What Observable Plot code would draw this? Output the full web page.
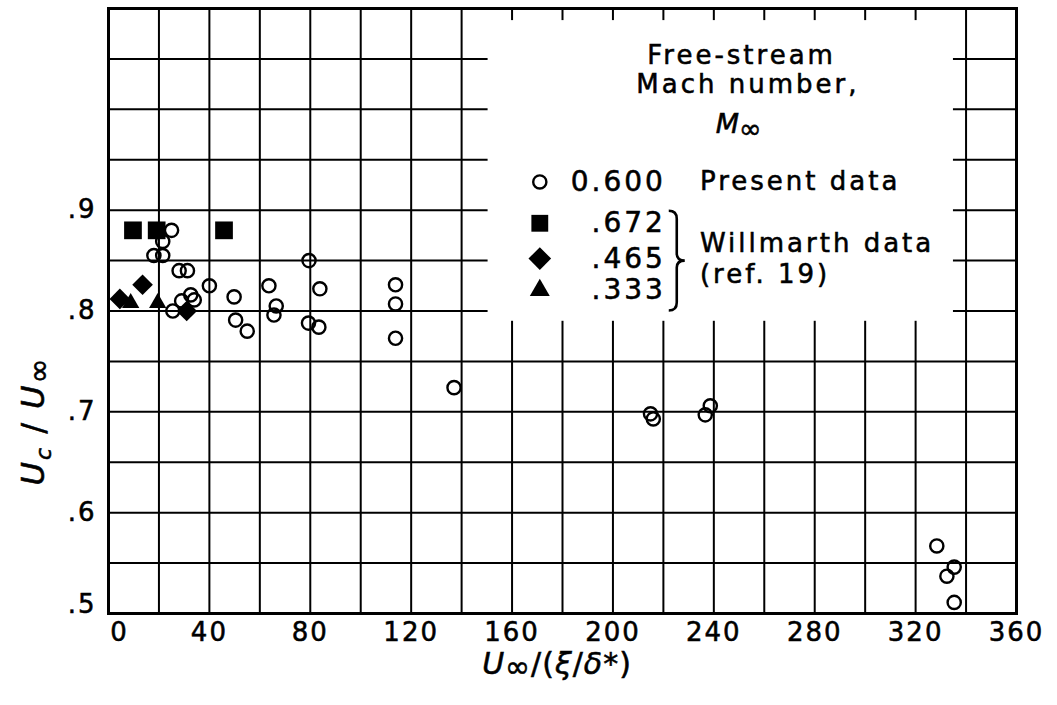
<!DOCTYPE html>
<html>
<head>
<meta charset="utf-8">
<script src="https://cdn.jsdelivr.net/npm/d3@7"></script>
<script src="https://cdn.jsdelivr.net/npm/@observablehq/plot@0.6"></script>
<style>
  body { margin: 0; background: #fff; }
  #chart svg { display: block; }
  #chart svg text { stroke: black; stroke-width: 0.55px; }
</style>
</head>
<body>
<div id="chart"></div>
<script>
// Convection velocity ratio Uc/U∞ against U∞/(ξ/δ*)

// Present data, M∞ = 0.600 (open circles)
const presentX = [25, 21.5, 18, 21.5, 28, 31.3, 40, 25.5, 29, 32.6, 34, 49.8, 50.4, 55,
  63.6, 66.5, 65.6, 79.5, 83.8, 79.3, 83.4, 113.8, 113.8, 113.8, 137,
  214.9, 216, 236.6, 238.6, 328.4, 335.3, 332.4, 335.3];
const presentY = [0.880, 0.869, 0.855, 0.855, 0.840, 0.840, 0.825, 0.800, 0.810, 0.816, 0.811, 0.814, 0.791, 0.780,
  0.825, 0.805, 0.796, 0.850, 0.822, 0.788, 0.784, 0.826, 0.807, 0.773, 0.724,
  0.698, 0.693, 0.697, 0.706, 0.567, 0.546, 0.537, 0.511];

// Willmarth data (ref. 19)
const m672X = [9.7, 19.1, 45.8];        // M∞ = .672, filled squares
const m672Y = [0.880, 0.880, 0.880];
const m465X = [4.5, 13.5, 31];          // M∞ = .465, filled diamonds
const m465Y = [0.812, 0.826, 0.800];
const m333X = [8.8, 19.5];              // M∞ = .333, filled triangles
const m333Y = [0.808, 0.808];

// Axis ticks and grid
const xTickValues = [0, 40, 80, 120, 160, 200, 240, 280, 320, 360];
const yTickValues = [0.5, 0.6, 0.7, 0.8, 0.9];
const xGridValues = d3.range(0, 361, 20);
const yGridValues = d3.range(10, 23).map(k => k / 20);

// Legend entries
const legendLabels = ["0.600", ".672", ".465", ".333"];
const legendSymbols = ["circle", "square", "diamond2", "triangle"];

const toPoints = (xs, ys) => xs.map((x, i) => ({x, y: ys[i]}));
const present = toPoints(presentX, presentY);
const m672 = toPoints(m672X, m672Y);
const m465 = toPoints(m465X, m465Y);
const m333 = toPoints(m333X, m333Y);

// legend layout (in data units)
const legX = 171, legLabelX = 221, legTextX = 234.5;
const legRowsY = [0.928, 0.887, 0.852, 0.8206];
const legendRows = legendLabels.map((label, i) => ({label, symbol: legendSymbols[i], y: legRowsY[i]}));
const panel = [{x1: 150.5, x2: 335, y1: 0.7898, y2: 1.088}];

// marker appearance shared by the data and the legend
const markStyle = {
  circle: {r: 6.6, fill: "none", stroke: "black", strokeWidth: 2.4},
  square: {r: 10, fill: "black"},
  diamond2: {r: 9.3, fill: "black"},
  triangle: {r: 6.4, fill: "black"}
};
const legendMarkStyle = {
  circle: {r: 6.6, fill: "none", stroke: "black", strokeWidth: 2.4},
  square: {r: 9.5, fill: "black"},
  diamond2: {r: 10.2, fill: "black"},
  triangle: {r: 7.4, fill: "black"}
};

const fontFamily = "'DejaVu Sans', sans-serif";
const gridStyle = {stroke: "black", strokeOpacity: 1, strokeWidth: 2};
const yFormat = d => d.toFixed(1).replace(/^0/, "");

const plot = Plot.plot({
  width: 1057,
  height: 705,
  marginLeft: 108,
  marginRight: 41,
  marginTop: 8,
  marginBottom: 92,
  style: {fontFamily, background: "white", color: "black"},
  x: {domain: [0, 360]},
  y: {domain: [0.5, 1.1]},
  marks: [
    Plot.gridX(xGridValues, gridStyle),
    Plot.gridY(yGridValues, gridStyle),
    Plot.rect(panel, {x1: "x1", x2: "x2", y1: "y1", y2: "y2", fill: "white"}),
    Plot.frame({stroke: "black", strokeWidth: 3}),
    Plot.axisX(xTickValues.filter(d => d !== 0), {tickSize: 0, tickPadding: 9, fontSize: 26, label: null}),
    Plot.axisX([0], {tickSize: 0, tickPadding: 9, fontSize: 26, label: null, dx: 11}),
    Plot.axisY(yTickValues.filter(d => d !== 0.5), {tickSize: 0, tickPadding: 12, fontSize: 26, tickFormat: yFormat, label: null}),
    Plot.axisY([0.5], {tickSize: 0, tickPadding: 12, fontSize: 26, tickFormat: yFormat, label: null, dy: -9}),
    Plot.dot(present, {x: "x", y: "y", symbol: "circle", ...markStyle.circle}),
    Plot.dot(m672, {x: "x", y: "y", symbol: "square", ...markStyle.square}),
    Plot.dot(m465, {x: "x", y: "y", symbol: "diamond2", ...markStyle.diamond2}),
    Plot.dot(m333, {x: "x", y: "y", symbol: "triangle", ...markStyle.triangle}),
    // legend
    Plot.text(["Free-stream"], {x: 251, y: 1.053, fontSize: 26}),
    Plot.text(["Mach number,"], {x: 253.5, y: 1.024, fontSize: 26}),
    ...legendRows.map(row => Plot.dot([row], {x: legX, y: "y", symbol: row.symbol, ...legendMarkStyle[row.symbol]})),
    Plot.text(legendRows, {x: legLabelX, y: "y", text: "label", textAnchor: "end", fontSize: 28}),
    Plot.text(["Present data"], {x: legTextX, y: 0.928, textAnchor: "start", fontSize: 26}),
    Plot.text(["Willmarth data"], {x: legTextX, y: 0.867, textAnchor: "start", fontSize: 26}),
    Plot.text(["(ref. 19)"], {x: legTextX, y: 0.8365, textAnchor: "start", fontSize: 26})
  ]
});

document.getElementById("chart").appendChild(plot);

// Rich text (italics, subscripts) and the legend brace
const svg = d3.select(plot);
svg.selectAll("text").style("letter-spacing", "3px");
svg.selectAll("[aria-label^='x-axis'] text, [aria-label^='y-axis'] text").style("letter-spacing", "2px");
const sx = plot.scale("x"), sy = plot.scale("y");

// M∞ under the legend heading
const mInf = svg.append("text")
  .attr("x", sx.apply(250)).attr("y", sy.apply(0.985) + 9)
  .attr("text-anchor", "middle")
  .attr("font-family", fontFamily).attr("font-size", 27);
mInf.append("tspan").attr("font-style", "italic").text("M");
mInf.append("tspan").attr("font-size", 27).attr("dy", 5).text("∞");

// brace grouping the Willmarth entries
const bx = sx.apply(225.5), by0 = sy.apply(0.899), by1 = sy.apply(0.800), bym = (by0 + by1) / 2;
svg.append("path")
  .attr("fill", "none").attr("stroke", "black").attr("stroke-width", 2.6)
  .attr("d", `M${bx - 8},${by0} Q${bx},${by0} ${bx},${by0 + 8} L${bx},${bym - 7} Q${bx},${bym} ${bx + 8},${bym} Q${bx},${bym} ${bx},${bym + 7} L${bx},${by1 - 8} Q${bx},${by1} ${bx - 8},${by1}`);

// y-axis title: Uc / U∞
const yTitle = svg.append("text")
  .attr("transform", "translate(44,421) rotate(-90)")
  .attr("text-anchor", "middle")
  .attr("font-family", fontFamily).attr("font-size", 32)
  .style("letter-spacing", "2px");
yTitle.append("tspan").attr("font-style", "italic").text("U");
yTitle.append("tspan").attr("font-size", 22).attr("font-style", "italic").attr("dy", 7).text("c");
yTitle.append("tspan").attr("dy", -7).text(" / ");
yTitle.append("tspan").attr("font-style", "italic").text("U");
yTitle.append("tspan").attr("font-size", 30).attr("dy", 5).text("∞");

// x-axis title: U∞/(ξ/δ*)
const xTitle = svg.append("text")
  .attr("x", 557).attr("y", 674)
  .attr("text-anchor", "middle")
  .attr("font-family", fontFamily).attr("font-size", 30)
  .style("letter-spacing", "1px");
xTitle.append("tspan").attr("font-style", "italic").text("U");
xTitle.append("tspan").attr("font-size", 30).attr("dy", 3).text("∞");
xTitle.append("tspan").attr("dy", -3).text("/(");
xTitle.append("tspan").attr("font-style", "italic").text("ξ");
xTitle.append("tspan").text("/");
xTitle.append("tspan").attr("font-style", "italic").text("δ");
xTitle.append("tspan").text("*)");
</script>
</body>
</html>
